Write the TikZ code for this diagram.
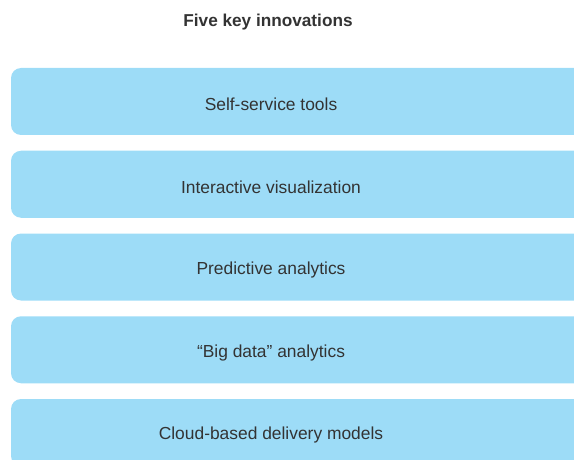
\documentclass[tikz,border=0pt]{standalone}
\usepackage{fontspec}
\setmainfont{Liberation Sans}
\definecolor{boxblue}{HTML}{9DDCF7}
\definecolor{inktext}{HTML}{333333}

\begin{document}
\begin{tikzpicture}[x=1pt,y=1pt,
	box/.style={fill=boxblue, rounded corners=10pt},
	itemtext/.style={text=inktext, font=\fontsize{17.4}{20}\selectfont},
	titletext/.style={text=inktext, font=\fontsize{17.2}{20}\selectfont\bfseries}]
				\useasboundingbox (0,0) rectangle (574,459);
				\clip (0,0) rectangle (574,459);
				\node[titletext] (title) at (268, 436.5) {Five key innovations};
				
				\def\list {1/391/Self-service tools, 2/308.25/Interactive visualization, 3/225.5/Predictive analytics, 4/142.75/``Big data'' analytics, 5/60/Cloud-based delivery models}  % rows
				\foreach \i\top\label in \list
				{	\fill[box] (11, \top) rectangle (600, \top-67);
					\node[itemtext] (item\i) at (271, \top-36.5) {\label};
				}
				
			\end{tikzpicture}
\end{document}
